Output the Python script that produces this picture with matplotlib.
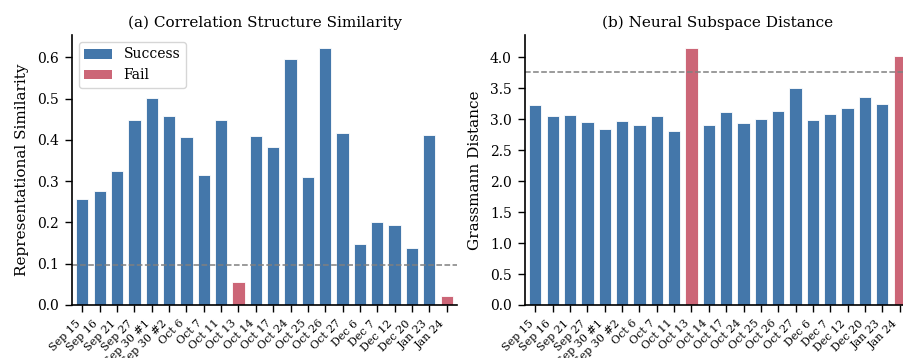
import numpy as np
import matplotlib.pyplot as plt
from matplotlib.patches import Patch

plt.rcParams['font.family'] = 'DejaVu Serif'

sessions = ['Sep 15', 'Sep 16', 'Sep 21', 'Sep 27', 'Sep 30 #1', 'Sep 30 #2',
            'Oct 6', 'Oct 7', 'Oct 11', 'Oct 13', 'Oct 14', 'Oct 17', 'Oct 24',
            'Oct 25', 'Oct 26', 'Oct 27', 'Dec 6', 'Dec 7', 'Dec 12', 'Dec 20',
            'Jan 23', 'Jan 24']
failed = ['Oct 13', 'Jan 24']

similarity = [0.256, 0.275, 0.325, 0.449, 0.502, 0.457, 0.408, 0.316, 0.448,
              0.055, 0.410, 0.383, 0.597, 0.310, 0.623, 0.417, 0.147, 0.202,
              0.194, 0.139, 0.412, 0.022]
sim_threshold = 0.096

grassmann = [3.22, 3.05, 3.07, 2.96, 2.84, 2.97, 2.91, 3.05, 2.81, 4.15,
             2.91, 3.12, 2.94, 3.00, 3.13, 3.50, 2.98, 3.09, 3.18, 3.35,
             3.25, 4.02]
dist_threshold = 3.76

blue = '#4477AA'
red = '#CC6677'
colors = [red if s in failed else blue for s in sessions]
x = np.arange(len(sessions))

fig = plt.figure(figsize=(9.04, 3.58), dpi=100)
ax1 = fig.add_axes([72/904, 53/358, 385/904, 270/358])
ax2 = fig.add_axes([525/904, 53/358, 385/904, 270/358])

def draw(ax, vals, thr, title, ylabel):
    ax.bar(x, vals, width=0.7, color=colors, edgecolor='white', linewidth=0.6)
    ax.axhline(thr, color='gray', ls='--', lw=1.1)
    ax.set_xlim(-0.6, len(sessions) - 0.4)
    ax.set_xticks(x)
    ax.set_xticklabels(sessions, rotation=45, ha='right', fontsize=8)
    ax.tick_params(axis='y', labelsize=10)
    ax.tick_params(direction='out', length=5, width=1, pad=4.5)
    ax.set_title(title, fontsize=11)
    ax.set_ylabel(ylabel, fontsize=11, labelpad=6)
    ax.spines['top'].set_visible(False)
    ax.spines['right'].set_visible(False)
    for sp in ['left', 'bottom']:
        ax.spines[sp].set_linewidth(1.2)

draw(ax1, similarity, sim_threshold, '(a) Correlation Structure Similarity',
     'Representational Similarity')
draw(ax2, grassmann, dist_threshold, '(b) Neural Subspace Distance',
     'Grassmann Distance')
ax2.set_yticks(np.arange(0, 4.01, 0.5))

ax1.legend(handles=[Patch(facecolor=blue, label='Success'),
                    Patch(facecolor=red, label='Fail')],
           loc='upper left', fontsize=10)

fig.savefig('out.png', dpi=100)
